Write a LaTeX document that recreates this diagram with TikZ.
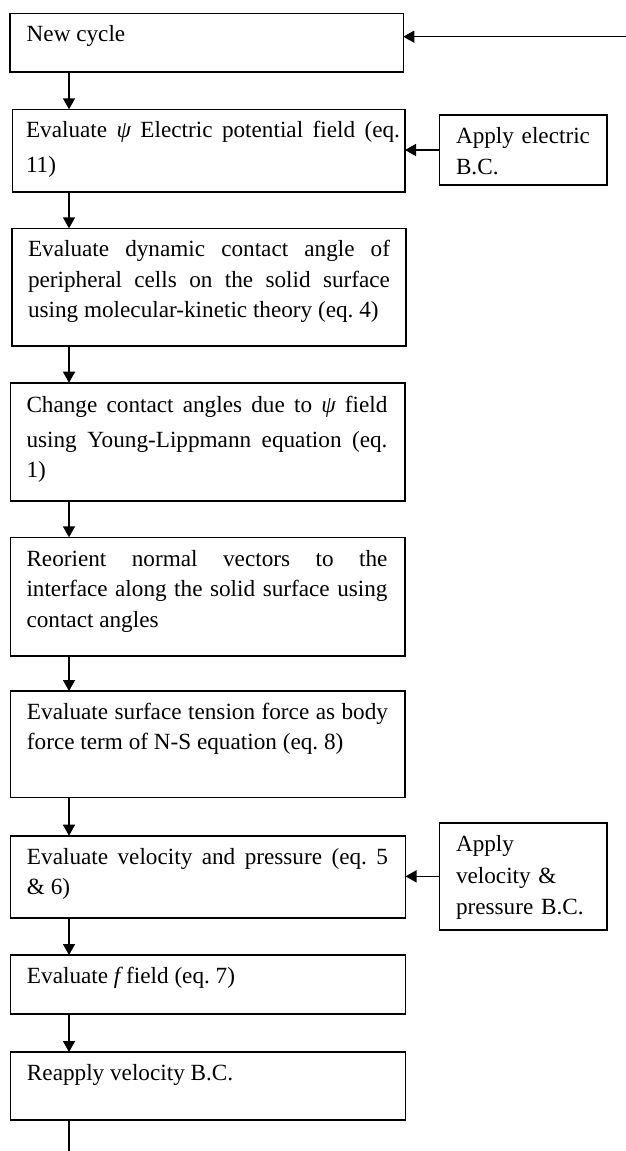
\documentclass[tikz,border=0pt]{standalone}
\usepackage{fontspec}
\setmainfont{Liberation Serif}
\usetikzlibrary{arrows.meta}
\newcommand\fszmain{\fontsize{23.2pt}{30.5pt}\selectfont\frenchspacing\tolerance=10000 \hbadness=10000 \hyphenpenalty=10000 \exhyphenpenalty=10000 }
\newcommand\fszside{\fontsize{23.2pt}{31.5pt}\selectfont\frenchspacing\tolerance=10000 \hbadness=10000 }
\begin{document}
\begin{tikzpicture}[x=1pt,y=-1pt,
  box/.style={draw=black, line width=1.6pt, inner sep=0pt, outer sep=0pt, anchor=north west},
  txt/.style={inner sep=0pt, outer sep=0pt, anchor=north west, text width=361pt, align=justify, font=\fszmain},
  sidetxt/.style={inner sep=0pt, outer sep=0pt, anchor=north west, text width=150pt, align=left, font=\fszside},
  arr/.style={line width=1.5pt, -{Triangle[length=11pt,width=12pt]}},
  plain/.style={line width=1.5pt}]
\useasboundingbox (0,0) rectangle (626,1151);
% main column boxes
\node[box, minimum width=393.3pt, minimum height=58.4pt]  (b1) at (10,13.3) {};
\node[box, minimum width=392.7pt, minimum height=82.4pt]  (b2) at (12.3,109.3) {};
\node[box, minimum width=394pt,   minimum height=117.4pt] (b3) at (12,228.3) {};
\node[box, minimum width=394.5pt, minimum height=118pt]   (b4) at (10.5,382.7) {};
\node[box, minimum width=394.5pt, minimum height=118.4pt] (b5) at (10.5,537.3) {};
\node[box, minimum width=394.5pt, minimum height=106.3pt] (b6) at (10.5,691) {};
\node[box, minimum width=395pt,   minimum height=82.3pt]  (b7) at (10.5,835.7) {};
\node[box, minimum width=395pt,   minimum height=59pt]    (b8) at (10.5,955) {};
\node[box, minimum width=395pt,   minimum height=68pt]    (b9) at (10.5,1052) {};
% side boxes
\node[box, minimum width=167.4pt, minimum height=70pt]    (a1) at (439.3,115) {};
\node[box, minimum width=167.4pt, minimum height=107.3pt] (a2) at (439.3,822.7) {};
% texts
\node[txt] (t1) at (26.7,20.35) {\strut New cycle};
\node[txt, text width=374pt] (t2) at (26,115.65) {\strut Evaluate {\itshape ψ} Electric potential field (eq.\vadjust{\vskip4.5pt}\linebreak 11)};
\node[txt, text width=362pt] (t3) at (28,235.35) {\strut Evaluate dynamic contact angle of\linebreak peripheral cells on the solid surface\linebreak using molecular-kinetic theory (eq. 4)};
\node[txt] (t4) at (26.5,390.65) {\strut Change contact angles due to {\itshape ψ} field\vadjust{\vskip4.5pt}\linebreak using Young-Lippmann equation (eq.\linebreak 1)};
\node[txt] (t5) at (26.5,544.65) {\strut Reorient normal vectors to the\linebreak interface along the solid surface using\linebreak contact angles};
\node[txt] (t6) at (27,697.65) {\strut Evaluate surface tension force as body\linebreak force term of N-S equation (eq. 8)};
\node[txt] (t7) at (27,842.65) {\strut Evaluate velocity and pressure (eq. 5\linebreak \& 6)};
\node[txt] (t8) at (27,962.15) {\strut Evaluate {\itshape f} field (eq. 7)};
\node[txt] (t9) at (27,1059.15) {\strut Reapply velocity B.C.};
\node[sidetxt] (t10) at (456,121.25) {\strut Apply electric\\B.C.};
\node[sidetxt] (t11) at (456,829.65) {\strut Apply\\velocity \&\\pressure B.C.};
% connectors
\coordinate (ax) at (69,0);
\coordinate (loopin) at (626,36.7);
\coordinate (tail) at (69,1151);
\draw[arr] (loopin) -- (b1.east |- loopin);
\draw[arr] (b1.south -| ax) -- (b2.north -| ax);
\draw[arr] (b2.south -| ax) -- (b3.north -| ax);
\draw[arr] (b3.south -| ax) -- (b4.north -| ax);
\draw[arr] (b4.south -| ax) -- (b5.north -| ax);
\draw[arr] (b5.south -| ax) -- (b6.north -| ax);
\draw[arr] (b6.south -| ax) -- (b7.north -| ax);
\draw[arr] (b7.south -| ax) -- (b8.north -| ax);
\draw[arr] (b8.south -| ax) -- (b9.north -| ax);
\draw[plain] (b9.south -| ax) -- (tail);
\draw[arr] (a1.west) -- (a1.west -| b2.east);
\draw[arr] (a2.west) -- (a2.west -| b7.east);
\end{tikzpicture}
\end{document}
